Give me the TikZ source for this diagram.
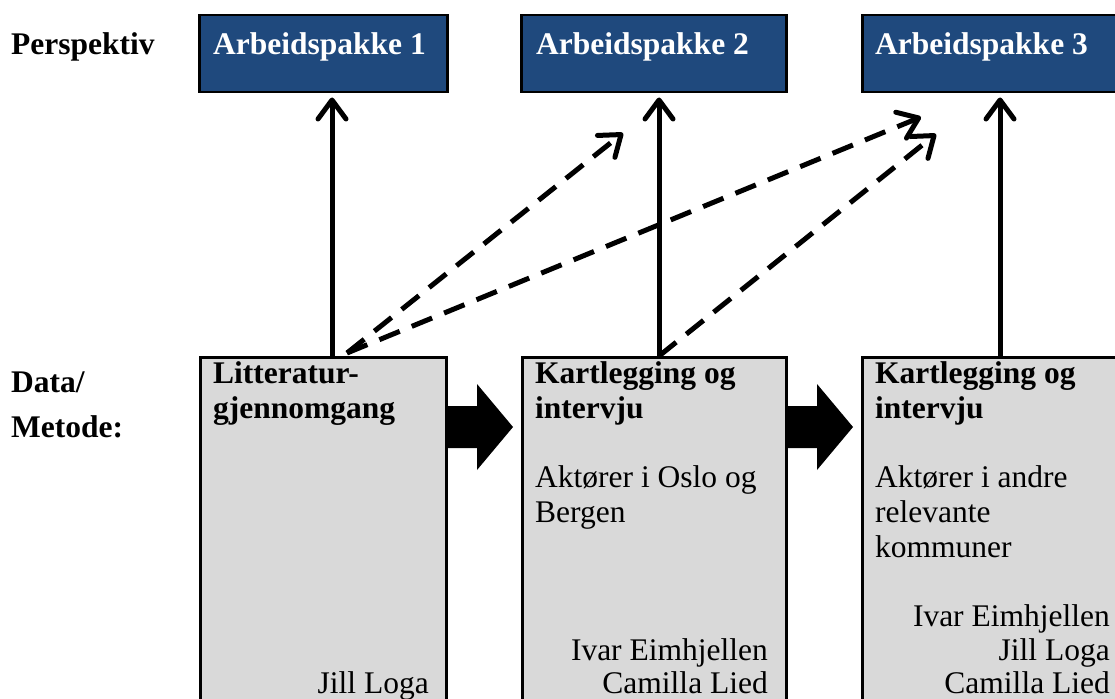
\documentclass[tikz,border=0pt]{standalone}
\usepackage{fontspec}
\setmainfont{Liberation Serif}
\usetikzlibrary{arrows.meta}
\definecolor{pakkeblue}{RGB}{31,73,125}
\definecolor{metodegray}{RGB}{217,217,217}
\tikzset{
  pakke/.style={draw,line width=2.5pt,fill=pakkeblue,anchor=north west,inner sep=0pt,minimum height=77pt},
  metode/.style={draw,line width=2.5pt,fill=metodegray,anchor=north west,inner sep=0pt,minimum height=360pt},
  tekst/.style={inner sep=0pt,anchor=base west,font=\fontsize{31.5}{36}\selectfont},
  navn/.style={tekst,anchor=base east},
  pil/.style={line width=5pt,shorten >=4pt,-{Straight Barb[length=19pt,width=28pt,line cap=round,line join=round]}},
  stiplet/.style={pil,shorten >=0pt,dash pattern=on 22pt off 13pt},
}
\begin{document}
\begin{tikzpicture}[x=1pt,y=-1pt]
      \useasboundingbox (0,0) rectangle (1115,698);
      \clip (0,0) rectangle (1115,698);

      \node[tekst] (persp) at (11,55) {\bfseries Perspektiv};
      \node[tekst] (data) at (11,392) {\bfseries Data/};
      \node[tekst] (metode) at (11,437) {\bfseries Metode:};

      \node[pakke,minimum width=248pt] (pak1) at (198,14) {};
      \node[pakke,minimum width=265pt] (pak2) at (520,14) {};
      \node[pakke,minimum width=265pt] (pak3) at (861,14) {};
      \node[tekst,text=white] (pak1txt) at (213,55) {\bfseries Arbeidspakke 1};
      \node[tekst,text=white] (pak2txt) at (536,55) {\bfseries Arbeidspakke 2};
      \node[tekst,text=white] (pak3txt) at (875,55) {\bfseries Arbeidspakke 3};

      \node[metode,minimum width=246pt] (litt) at (199,356) {};
      \node[metode,minimum width=264pt] (kart1) at (521,356) {};
      \node[metode,minimum width=265pt] (kart2) at (861,356) {};

      \node[tekst] (litt1) at (213,383) {\bfseries Litteratur-};
      \node[tekst] (litt2) at (213,418) {\bfseries gjennomgang};
      \node[navn] (litt3) at (429,693) {Jill Loga};

      \node[tekst] (kartA1) at (535,383) {\bfseries Kartlegging og};
      \node[tekst] (kartA2) at (535,418) {\bfseries intervju};
      \node[tekst] (kartA3) at (535,487) {Aktører i Oslo og};
      \node[tekst] (kartA4) at (535,522) {Bergen};
      \node[navn] (kartA5) at (768,660) {Ivar Eimhjellen};
      \node[navn] (kartA6) at (768,693) {Camilla Lied};

      \node[tekst] (kartB1) at (875,383) {\bfseries Kartlegging og};
      \node[tekst] (kartB2) at (875,418) {\bfseries intervju};
      \node[tekst] (kartB3) at (875,487) {Aktører i andre};
      \node[tekst] (kartB4) at (875,522) {relevante};
      \node[tekst] (kartB5) at (875,557) {kommuner};
      \node[navn] (kartB6) at (1110,626) {Ivar Eimhjellen};
      \node[navn] (kartB7) at (1110,660) {Jill Loga};
      \node[navn] (kartB8) at (1110,693) {Camilla Lied};

      \fill (447,406) -- (477,406) -- (477,384) -- (513,427) -- (477,470) -- (477,448) -- (447,448) -- cycle;
      \fill (787,406) -- (817,406) -- (817,384) -- (853,427) -- (817,470) -- (817,448) -- (787,448) -- cycle;

      \coordinate (v1) at (332,356);
      \coordinate (v2) at (659,356);
      \coordinate (v3) at (1000,356);
      \draw[pil] (v1) -- (v1 |- pak1.south);
      \draw[pil] (v2) -- (v2 |- pak2.south);
      \draw[pil] (v3) -- (v3 |- pak3.south);

      \coordinate (d1) at (347,353);
      \coordinate (mal2) at (623,133);
      \coordinate (mal3a) at (921,117);
      \coordinate (mal3b) at (936,134);
      \draw[stiplet] (d1) -- (mal2);
      \draw[stiplet] (d1) -- (mal3a);
      \draw[stiplet] (v2) -- (mal3b);
    \end{tikzpicture}
\end{document}
